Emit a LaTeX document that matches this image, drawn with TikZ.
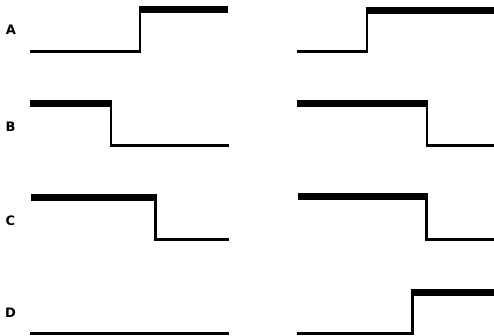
\documentclass[tikz,border=0pt]{standalone}
\usepackage{fontspec}
\newfontfamily\labelfont{DejaVu Sans}

\tikzset{
	lowline/.style={line width=2.7pt, line cap=butt, line join=miter},
	highline/.style={line width=7pt, line cap=butt},
	rowlabel/.style={font=\labelfont\bfseries\fontsize{13}{13}\selectfont, inner sep=0pt}
}

\begin{document}
\begin{tikzpicture}[x=1pt, y=-1pt]
		\useasboundingbox (0,0) rectangle (494,335);

		% row labels
		\node [rowlabel] (labA) at (11, 30.2) {A};
		\node [rowlabel] (labB) at (10.5, 126.4) {B};
		\node [rowlabel] (labC) at (10.5, 220.4) {C};
		\node [rowlabel] (labD) at (10.5, 312.4) {D};

		% row A: rising step
		\draw [lowline] (30, 51.5) -- (140, 51.5) -- (140, 9);
		\draw [highline] (138.7, 9) -- (228, 9);
		\draw [lowline] (297, 51.7) -- (367, 51.7) -- (367, 10.3);
		\draw [highline] (365.7, 10.3) -- (494, 10.3);

		% row B: falling step
		\draw [lowline] (111, 103) -- (111, 145.5) -- (229, 145.5);
		\draw [highline] (30, 103) -- (112.3, 103);
		\draw [lowline] (427, 103) -- (427, 145.7) -- (494, 145.7);
		\draw [highline] (297, 103) -- (428.3, 103);

		% row C: falling step, later edge
		\draw [lowline] (155.5, 197) -- (155.5, 239.7) -- (229, 239.7);
		\draw [highline] (31, 197) -- (156.8, 197);
		\draw [lowline] (426.5, 196.5) -- (426.5, 239.8) -- (494, 239.8);
		\draw [highline] (298, 196.5) -- (427.8, 196.5);

		% row D: flat on the left, rising step on the right
		\draw [lowline] (30, 333.7) -- (229, 333.7);
		\draw [lowline] (297, 333.7) -- (412.5, 333.7) -- (412.5, 292.3);
		\draw [highline] (411.2, 292.3) -- (494, 292.3);
	\end{tikzpicture}
\end{document}
